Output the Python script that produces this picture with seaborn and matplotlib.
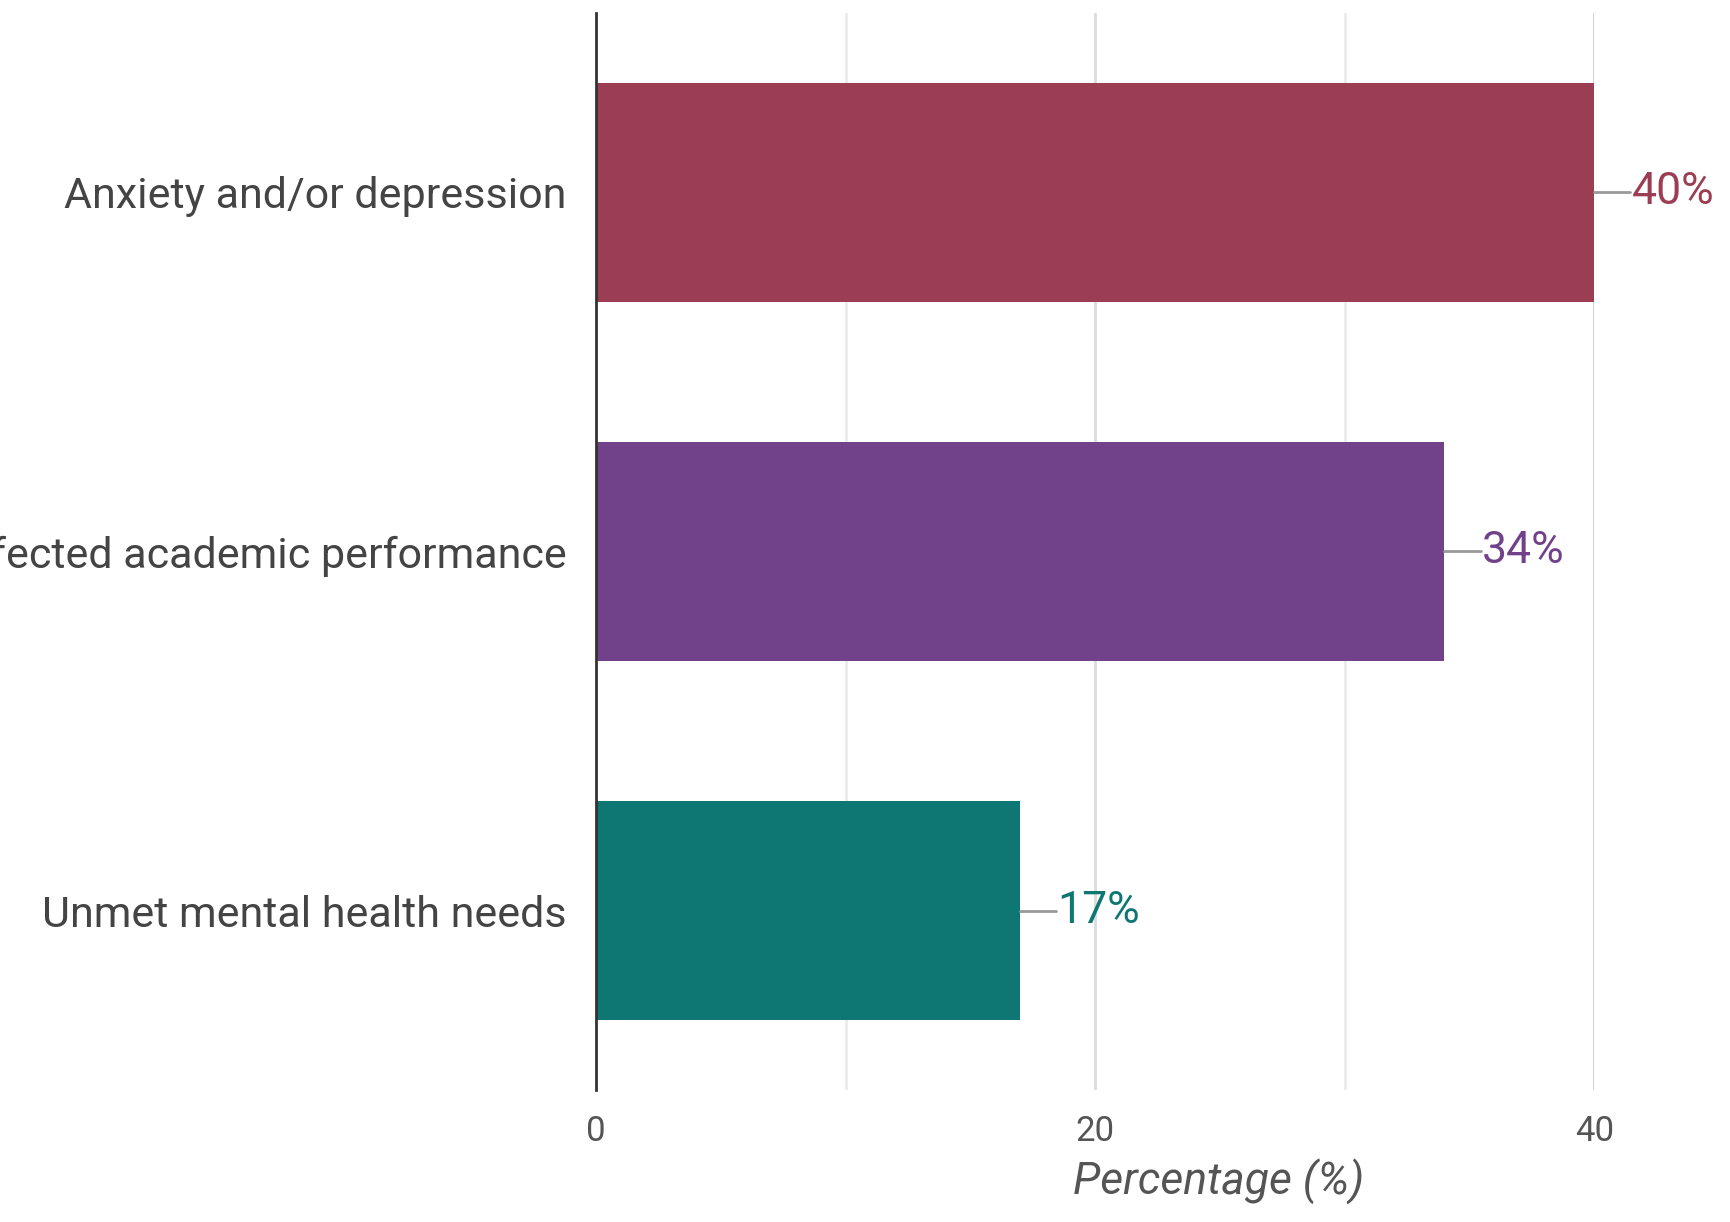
import matplotlib
matplotlib.use("Agg")
import matplotlib.pyplot as plt
import seaborn as sns
import pandas as pd

categories = ["Anxiety and/or depression", "Affected academic performance", "Unmet mental health needs"]
values = [40, 34, 17]
bar_colors = ["#9B3D53", "#71428A", "#0E7673"]
x_ticks = [0, 20, 40]
x_label = "Percentage (%)"

sns.set_theme(style="white")
plt.rcParams["font.family"] = ["Roboto", "DejaVu Sans"]

df = pd.DataFrame({"cat": categories, "val": values})

fig = plt.figure(figsize=(17.3, 12.22), dpi=100)
ax = fig.add_axes([0.3445, 0.108, 0.577, 0.8814])

# grid lines
for g, c in [(10, "#ebebeb"), (20, "#dcdcdc"), (30, "#ebebeb"), (40, "#cccccc")]:
    ax.axvline(g, color=c, lw=2, zorder=0)

sns.barplot(data=df, x="val", y="cat", hue="cat", palette=bar_colors,
            orient="h", width=0.61, legend=False, ax=ax, zorder=2,
            edgecolor="none", saturation=1)

ax.set_xlim(0, 40)
ax.set_ylim(2.5, -0.5)

for i, (v, c) in enumerate(zip(values, bar_colors)):
    ax.plot([v, v + 1.45], [i, i], color="#999999", lw=2, clip_on=False, zorder=3)
    ax.text(v + 1.5, i, f"{v}%", color=c, fontsize=32, va="center", ha="left",
            clip_on=False)

ax.set_xticks(x_ticks)
ax.set_xticklabels([str(t) for t in x_ticks], fontsize=25, color="#555555")
ax.tick_params(axis="x", length=0, pad=18)
ax.tick_params(axis="y", length=0, pad=21, labelsize=31, labelcolor="#444444")
ax.set_ylabel("")
ax.set_xlabel(x_label, fontsize=32, style="italic", color="#555555")
ax.xaxis.set_label_coords(0.624, -0.063)

for s in ["top", "right", "bottom"]:
    ax.spines[s].set_visible(False)
ax.spines["left"].set_color("#333333")
ax.spines["left"].set_linewidth(2)
ax.spines["left"].set_zorder(4)

fig.savefig("out.png", dpi=100)
